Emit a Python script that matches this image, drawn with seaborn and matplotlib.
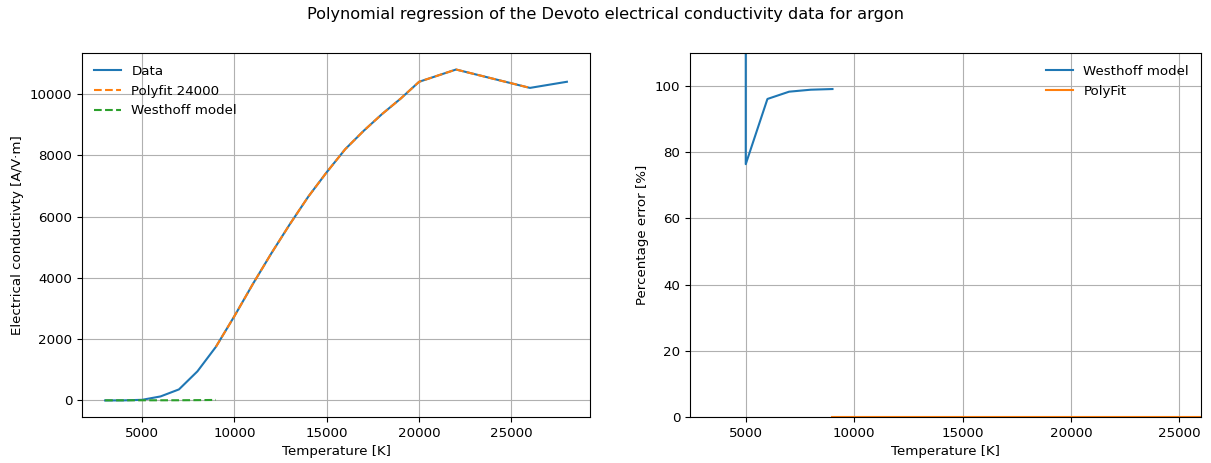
import matplotlib
matplotlib.use("Agg")
import matplotlib.pyplot as plt
import seaborn as sns

# Devoto electrical conductivity of argon
temperature = [3000, 4000, 5000, 6000, 7000, 8000, 9000, 10000, 11000, 12000,
               13000, 14000, 15000, 16000, 17000, 18000, 19000, 20000, 22000,
               26000, 28000]
conductivity = [0, 2, 20, 130, 360, 950, 1750, 2750, 3800, 4800,
                5750, 6650, 7450, 8200, 8800, 9350, 9850, 10400, 10800,
                10200, 10400]

# Polynomial fit evaluated on the fitting range
polyfit_temperature = [9000, 10000, 11000, 12000, 13000, 14000, 15000, 16000,
                       17000, 18000, 19000, 20000, 22000, 26000]
polyfit_values = [1750, 2750, 3800, 4800, 5750, 6650, 7450, 8200,
                  8800, 9350, 9850, 10400, 10800, 10200]

# Westhoff model (low temperature range)
westhoff_temperature = [3000, 4000, 5000, 6000, 7000, 8000, 9000]
westhoff_values = [3, 4, 5, 5, 6, 10, 16]

# Percentage errors
westhoff_err_temperature = [3000, 4000, 5000, 6000, 7000, 8000, 9000]
westhoff_err = [300000, 100000, 76.4, 96.1, 98.3, 98.9, 99.1]
polyfit_err_temperature = [9000, 12000, 16000, 20000, 24000, 28000]
polyfit_err = [0.05, 0.05, 0.05, 0.05, 0.05, 0.05]

blue, orange, green = "#1f77b4", "#ff7f0e", "#2ca02c"

plt.rcParams["font.size"] = 9.6

fig = plt.figure(figsize=(12.11, 4.63), dpi=100)
ax1 = fig.add_axes([0.0677, 0.0994, 0.4195, 0.7862])
ax2 = fig.add_axes([0.5698, 0.0994, 0.4220, 0.7862])

sns.lineplot(x=temperature, y=conductivity, ax=ax1, color=blue, label="Data")
sns.lineplot(x=polyfit_temperature, y=polyfit_values, ax=ax1, color=orange,
             linestyle="--", label="Polyfit 24000")
sns.lineplot(x=westhoff_temperature, y=westhoff_values, ax=ax1, color=green,
             linestyle="--", label="Westhoff model")
ax1.set_xlabel("Temperature [K]")
ax1.set_ylabel("Electrical conductivty [A/V·m]")
ax1.grid(True)
ax1.legend(loc="upper left", frameon=False)

sns.lineplot(x=westhoff_err_temperature, y=westhoff_err, ax=ax2, color=blue,
             label="Westhoff model")
sns.lineplot(x=polyfit_err_temperature, y=polyfit_err, ax=ax2, color=orange,
             label="PolyFit")
ax2.set_xlim(2430, 26000)
ax2.set_ylim(0, 110)
ax2.set_xlabel("Temperature [K]")
ax2.set_ylabel("Percentage error [%]")
ax2.grid(True)
ax2.legend(loc="upper right", frameon=False)

fig.suptitle("Polynomial regression of the Devoto electrical conductivity data for argon",
             fontsize=11.6, y=0.985)
fig.savefig("out.png", dpi=100)
